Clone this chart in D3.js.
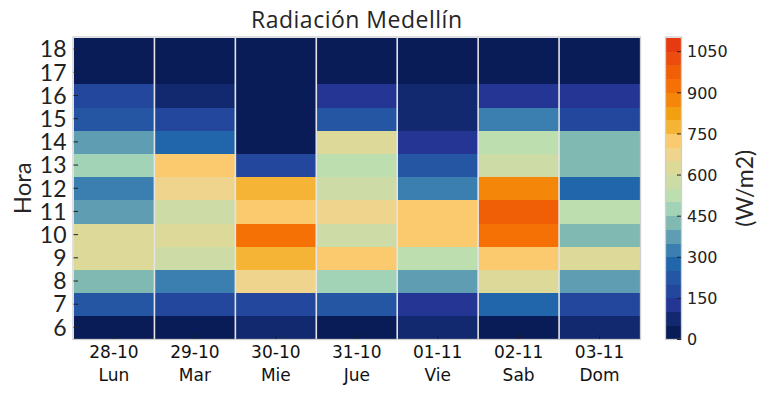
<!DOCTYPE html>
<html>
<head>
<meta charset="utf-8">
<script src="https://cdn.jsdelivr.net/npm/d3@7"></script>
<style>
  html, body { margin: 0; padding: 0; background: #fff; }
  svg { display: block; }
</style>
</head>
<body>
<svg id="chart" width="767" height="395"></svg>
<script>
// ---------------- data ----------------
const fechas = ["28-10", "29-10", "30-10", "31-10", "01-11", "02-11", "03-11"];
const diasSemana = ["Lun", "Mar", "Mie", "Jue", "Vie", "Sab", "Dom"];
const horas = [6, 7, 8, 9, 10, 11, 12, 13, 14, 15, 16, 17, 18];

// Radiation (W/m2) per hour 6..18, one array per day
const lun28 = [20, 230, 430, 620, 625, 375, 320, 480, 370, 220, 180, 15, 5];
const mar29 = [25, 170, 320, 570, 620, 575, 680, 720, 270, 175, 70, 10, 5];
const mie30 = [60, 165, 670, 780, 930, 730, 780, 180, 30, 20, 15, 5, 2];
const jue31 = [30, 220, 480, 730, 570, 680, 580, 520, 630, 230, 130, 10, 3];
const vie01 = [70, 130, 380, 520, 740, 735, 330, 230, 140, 80, 60, 10, 2];
const sab02 = [35, 280, 630, 720, 920, 980, 870, 570, 530, 330, 120, 15, 3];
const dom03 = [65, 180, 370, 610, 430, 520, 280, 440, 420, 190, 120, 10, 3];
const radiacion = [lun28, mar29, mie30, jue31, vie01, sab02, dom03];

const cbTicks = [0, 150, 300, 450, 600, 750, 900, 1050];
const cbMax = 1100;
const cbStep = 50;
const paleta = ["#0a1c58","#13296f","#253594","#22479c","#2456a4","#2166ab","#3a7fb0","#5f9db2",
                "#80b8b2","#a2d3b6","#bddfb0","#cddba6","#ddd998","#efd48e","#fcca6e","#f5b436",
                "#f2a012","#f4860a","#f57005","#f05e06","#ec4c0e","#e63a10"];

// ---------------- layout ----------------
const svg = d3.select("#chart");
const L = 73.5, R = 640, T = 37.5, B = 339;
const cbL = 666, cbR = 681;
const SANS = "'DejaVu Sans', sans-serif";
const HUM = "Lato, sans-serif";

const x = d3.scaleBand().domain(d3.range(fechas.length)).range([L, R]);
const y = d3.scaleBand().domain(horas.slice().reverse()).range([T, B]);
const thresholds = d3.range(cbStep, cbMax, cbStep);
const color = d3.scaleThreshold().domain(thresholds).range(paleta);
const cbY = d3.scaleLinear().domain([0, cbMax]).range([B, T]);

// cells
const cells = [];
radiacion.forEach((serie, di) => serie.forEach((v, hi) => cells.push({di, h: horas[hi], v})));
svg.append("g").selectAll("rect").data(cells).join("rect")
  .attr("x", d => x(d.di))
  .attr("y", d => y(d.h))
  .attr("width", x.bandwidth())
  .attr("height", y.bandwidth() + 0.5)
  .attr("fill", d => color(d.v))
  .attr("shape-rendering", "crispEdges");

// vertical separators
svg.append("g").selectAll("line").data(d3.range(1, fechas.length)).join("line")
  .attr("x1", d => x(d)).attr("x2", d => x(d))
  .attr("y1", T).attr("y2", B)
  .attr("stroke", "#e4e4e4").attr("stroke-width", 1.6);

// frame
svg.append("rect").attr("x", L - 0.5).attr("y", T - 0.5)
  .attr("width", R - L + 1).attr("height", B - T + 1)
  .attr("fill", "none").attr("stroke", "#cfcfcf").attr("stroke-width", 1.3);

// y axis
const yAxis = svg.append("g").attr("transform", `translate(${L},0)`)
  .call(d3.axisLeft(y).tickSizeInner(-4.5).tickSizeOuter(0).tickPadding(7));
yAxis.select(".domain").remove();
yAxis.selectAll("line").attr("stroke", "#222").attr("stroke-width", 1);
yAxis.selectAll("text").attr("font-family", HUM).attr("font-size", 23)
  .attr("fill", "#222").attr("dy", "0.36em");

// x axis
const xAxis = svg.append("g").attr("transform", `translate(0,${B})`)
  .call(d3.axisBottom(x).tickSizeInner(-4.5).tickSizeOuter(0).tickFormat(() => ""));
xAxis.select(".domain").remove();
xAxis.selectAll("line").attr("stroke", "#222").attr("stroke-width", 1);
xAxis.selectAll(".tick").each(function(d) {
  const t = d3.select(this).append("text")
    .attr("text-anchor", "middle").attr("font-family", SANS)
    .attr("font-size", 17).attr("fill", "#111");
  t.append("tspan").attr("x", 0).attr("y", 19).text(fechas[d]);
  t.append("tspan").attr("x", 0).attr("y", 42).text(diasSemana[d]);
});

// title
svg.append("text").attr("x", (L + R) / 2).attr("y", 28)
  .attr("text-anchor", "middle").attr("font-family", "'Open Sans', sans-serif")
  .attr("font-size", 23).attr("letter-spacing", 0.5)
  .attr("fill", "#262626").text("Radiación Medellín");

// y label
svg.append("text").attr("transform", `translate(31,${(T + B) / 2}) rotate(-90)`)
  .attr("text-anchor", "middle").attr("font-family", HUM)
  .attr("font-size", 24).attr("fill", "#262626").text("Hora");

// colorbar
svg.append("g").selectAll("rect").data(d3.range(0, cbMax, cbStep)).join("rect")
  .attr("x", cbL).attr("width", cbR - cbL)
  .attr("y", d => cbY(d + cbStep)).attr("height", d => cbY(d) - cbY(d + cbStep) + 0.5)
  .attr("fill", d => color(d + cbStep / 2))
  .attr("shape-rendering", "crispEdges");
svg.append("rect").attr("x", cbL - 0.5).attr("y", T - 0.5)
  .attr("width", cbR - cbL + 1).attr("height", B - T + 1)
  .attr("fill", "none").attr("stroke", "#cfcfcf").attr("stroke-width", 1.3);
const cbAxis = svg.append("g").attr("transform", `translate(${cbR},0)`)
  .call(d3.axisRight(cbY).tickValues(cbTicks).tickFormat(d3.format("d"))
    .tickSizeInner(-4).tickSizeOuter(0).tickPadding(6));
cbAxis.select(".domain").remove();
cbAxis.selectAll("line").attr("stroke", "#222");
cbAxis.selectAll("text").attr("font-family", SANS).attr("font-size", 16)
  .attr("fill", "#222").attr("dy", "0.36em");

svg.append("text").attr("transform", `translate(753,${(T + B) / 2}) rotate(-90)`)
  .attr("text-anchor", "middle").attr("font-family", HUM)
  .attr("font-size", 23).attr("fill", "#262626").text("(W/m2)");
</script>
</body>
</html>
